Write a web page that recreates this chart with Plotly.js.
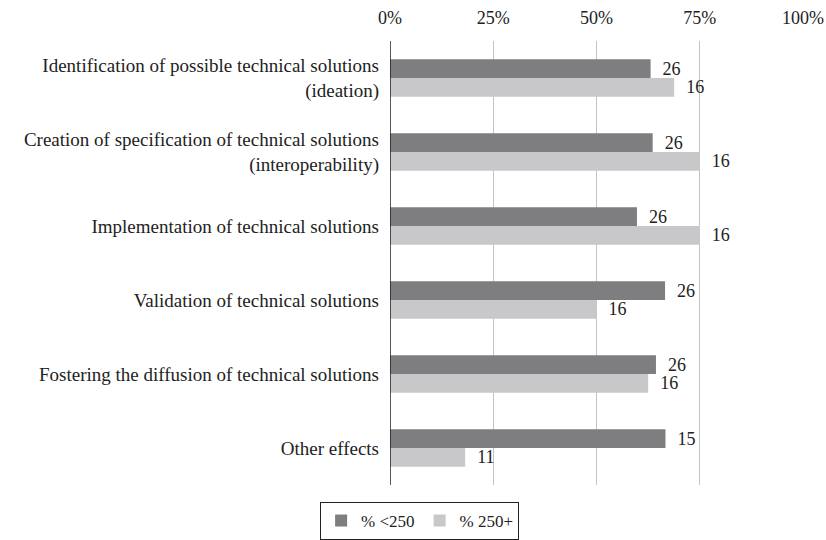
<!DOCTYPE html>
<html><head><meta charset="utf-8">
<script src="https://cdn.plot.ly/plotly-3.0.1.min.js"></script>
<style>html,body{margin:0;padding:0;background:#fff}#c{width:826px;height:540px}</style>
</head><body><div id="c"></div>
<script>
const categories = [
  "Identification of possible technical solutions<br>(ideation)",
  "Creation of specification of technical solutions<br>(interoperability)",
  "Implementation of technical solutions",
  "Validation of technical solutions",
  "Fostering the diffusion of technical solutions",
  "Other effects"
];
const seriesNames = ["% <250", "% 250+"];
const small = [63.1, 63.6, 59.8, 66.6, 64.4, 66.7];
const large = [68.8, 75.0, 75.0, 50.0, 62.5, 18.2];
const smallN = ["26", "26", "26", "26", "26", "15"];
const largeN = ["16", "16", "16", "16", "16", "11"];
const tickVals = [0, 25, 50, 75, 100];
const tickText = ["0%", "25%", "50%", "75%", "100%"];

const fam = "Liberation Serif, DejaVu Serif, serif";
const font = {family: fam, size: 18, color: "#222"};
const catFont = {family: fam, size: 19, color: "#222"};
const legFont = {family: fam, size: 17, color: "#222"};
const traces = [
  {type: "bar", orientation: "h", name: seriesNames[0], y: categories, x: small, text: smallN,
   texttemplate: "  %{text}", textposition: "outside", cliponaxis: false, constraintext: "none",
   marker: {color: "#7e7e80"}, textfont: font, hoverinfo: "none"},
  {type: "bar", orientation: "h", name: seriesNames[1], y: categories, x: large, text: largeN,
   texttemplate: "  %{text}", textposition: "outside", cliponaxis: false, constraintext: "none",
   marker: {color: "#c8c8ca"}, textfont: font, hoverinfo: "none"}
];
const layout = {
  width: 826, height: 540,
  margin: {l: 390, r: 23, t: 41, b: 55},
  font: font,
  barmode: "group", bargap: 0.49, bargroupgap: 0,
  paper_bgcolor: "#fff", plot_bgcolor: "#fff",
  xaxis: {side: "top", range: [0, 100], tickvals: tickVals, ticktext: tickText,
    showgrid: true, gridcolor: "#c4c4c4", gridwidth: 1, zeroline: false,
    ticks: "", ticklabelstandoff: 12, tickfont: font, showline: false, automargin: false},
  yaxis: {autorange: "reversed", showgrid: false, zeroline: false, showline: false,
    ticks: "", tickfont: catFont, ticklabelstandoff: 10, automargin: false},
  shapes: [{type: "line", xref: "x", yref: "paper", x0: 0, x1: 0, y0: 0, y1: 1,
    line: {color: "#222", width: 1.5}}],
  showlegend: true,
  legend: {orientation: "h", xref: "container", yref: "container",
    x: 0.508, xanchor: "center", y: 0.0704, yanchor: "top",
    bordercolor: "#222", borderwidth: 1, font: legFont, traceorder: "normal"}
};
Plotly.newPlot("c", traces, layout, {staticPlot: true, displayModeBar: false});
</script></body></html>
